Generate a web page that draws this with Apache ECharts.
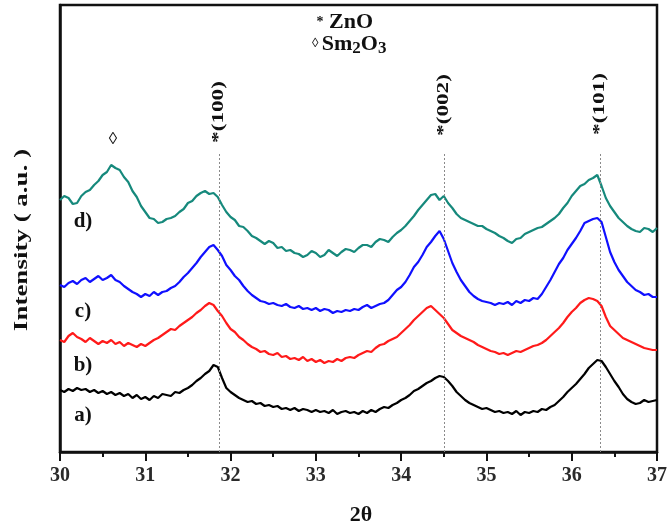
<!DOCTYPE html>
<html>
<head>
<meta charset="utf-8">
<script src="https://cdn.jsdelivr.net/npm/echarts@6/dist/echarts.min.js"></script>
<style>
html,body{margin:0;padding:0;background:#fff;}
#chart{width:670px;height:527px;}
</style>
</head>
<body>
<div id="chart"></div>
<script>
// 2-theta sampling: 30.00 .. 37.00, step 0.05 (141 points)
const thetaStart = 30, thetaStep = 0.05;

// Intensities (a.u.), offset curves a) .. d)
const curveD = [
252,256,254,248,249,256,260,262,267,271,
277,280,287,284,282,275,270,261,255,246,
240,234,233,229,230,233,234,236,240,243,
249,251,256,259,261,258,259,255,247,240,
235,232,226,225,221,216,214,211,208,211,
209,204,205,201,202,199,198,195,197,201,
199,195,197,202,199,196,200,203,202,200,
204,207,207,205,210,213,212,210,215,219,
222,226,231,236,242,247,252,257,258,252,
256,249,244,238,234,232,230,228,226,226,
223,221,219,216,214,211,209,213,214,218,
220,222,224,225,228,231,234,238,244,249,
256,261,266,268,272,274,277,266,254,246,
240,234,230,226,223,221,220,224,223,220,
224];
const curveC = [
167,165,169,171,168,172,174,170,173,176,
172,174,177,172,170,166,163,160,158,155,
158,156,160,157,160,161,164,166,170,175,
179,184,189,195,200,205,207,202,196,187,
182,176,172,166,161,157,154,151,150,148,
149,147,146,148,145,144,146,143,144,142,
144,141,143,142,139,141,140,142,141,143,
142,145,147,144,146,148,149,152,157,162,
165,170,177,185,190,197,205,210,216,221,
213,201,189,180,172,166,160,156,153,151,
150,149,147,149,148,150,147,151,149,152,
151,154,153,158,165,172,180,188,194,202,
208,214,221,229,231,233,234,230,215,200,
190,182,176,170,166,162,160,157,158,155,
155];
const curveB = [
112,110,116,119,115,113,110,114,111,108,
111,109,112,108,110,106,109,107,105,108,
106,109,112,114,117,120,123,122,126,129,
132,135,139,142,146,149,147,141,136,129,
123,120,115,112,108,105,103,100,101,98,
97,99,95,96,93,94,92,95,91,93,
90,92,89,91,90,93,91,94,95,94,
97,99,101,100,104,107,108,111,113,115,
119,123,127,132,136,140,144,146,142,138,
134,128,122,119,116,114,112,110,107,105,
103,101,100,98,99,97,99,101,100,102,
104,106,107,109,112,116,120,124,129,135,
140,144,149,152,154,153,151,146,135,126,
122,118,114,112,110,108,106,104,103,102,
102];
const curveA = [
62,60,63,61,64,62,63,60,62,59,
61,58,60,57,59,56,58,54,57,53,
55,52,56,54,58,57,56,60,59,62,
64,67,71,74,78,81,87,85,74,64,
60,57,54,52,50,51,48,49,46,47,
45,46,43,44,42,44,41,43,42,40,
42,40,41,39,42,38,40,41,39,40,
38,41,39,42,40,43,45,44,47,49,
52,54,57,61,63,66,69,71,74,76,
75,71,66,60,56,52,49,47,45,43,
44,42,40,41,39,40,38,41,37,40,
39,41,40,43,42,45,47,51,55,60,
64,68,73,78,84,88,92,91,85,78,
71,65,58,53,50,48,49,52,50,51,
52];

const curveNames = ['a)', 'b)', 'c)', 'd)'];
const curveColors = ['#000000', '#ff1a1a', '#1010ff', '#16897c'];

// ZnO reflections
const peakPositions = [31.87, 34.51, 36.34];
const peakLabels = ['*(100)', '*(002)', '*(101)'];
const peakLineTop = 299;
// Sm2O3 reflection
const smPeak = 30.62;

const xTicks = [30, 31, 32, 33, 34, 35, 36, 37];

function toPairs(arr) {
  return arr.map((v, i) => [+(thetaStart + i * thetaStep).toFixed(2), v]);
}

const chart = echarts.init(document.getElementById('chart'));
const serif = '"Liberation Serif","Times New Roman",serif';
const curves = [curveA, curveB, curveC, curveD];

const series = curves.map((c, k) => ({
  type: 'line',
  name: curveNames[k],
  data: toPairs(c),
  showSymbol: false,
  symbol: 'none',
  silent: true,
  z: 3,
  lineStyle: { color: curveColors[k], width: 2.2 }
}));

series[0].markLine = {
  silent: true,
  symbol: 'none',
  label: { show: false },
  lineStyle: { type: [2, 2], color: '#8a8a8a', width: 1 },
  data: peakPositions.map(p => [{ coord: [p, 0] }, { coord: [p, peakLineTop] }])
};

chart.setOption({
  animation: false,
  backgroundColor: '#fff',
  grid: { left: 60, right: 10, top: 5, bottom: 75, show: true, borderColor: '#111', borderWidth: 2.5 },
  xAxis: {
    type: 'value', min: 30, max: 37, interval: 1,
    axisLine: { show: true, lineStyle: { color: '#111', width: 2.5 } },
    axisTick: { show: true, inside: false, length: 9, lineStyle: { color: '#111', width: 2 } },
    minorTick: { show: true, splitNumber: 2, length: 5, lineStyle: { color: '#111', width: 2 } },
    splitLine: { show: false },
    axisLabel: { color: '#2a2a2a', fontFamily: serif, fontWeight: 'bold', fontSize: 20, margin: 14,
      formatter: v => xTicks.includes(v) ? String(v) : '' }
  },
  yAxis: {
    type: 'value', min: 0, max: 447,
    axisLine: { show: true, lineStyle: { color: '#111', width: 2.5 } },
    axisTick: { show: false }, axisLabel: { show: false }, splitLine: { show: false }
  },
  series: series
});

// annotations
const g = [];
const T = (text, x, y, size, extra) => Object.assign({
  type: 'text', x: x, y: y, silent: true, z: 10,
  style: Object.assign({ text: text, fill: '#111', font: 'bold ' + size + 'px ' + serif,
    textAlign: 'center', textVerticalAlign: 'middle' }, extra && extra.style || {})
}, extra && extra.el || {});

const peakY = [340, 347, 348];
peakPositions.forEach((p, i) => {
  const pt = chart.convertToPixel({ gridIndex: 0 }, [p, peakY[i]]);
  g.push(T(peakLabels[i], pt[0] - 1, pt[1], 16, { el: { rotation: Math.PI / 2, scaleX: 1.45 } }));
});
const sp = chart.convertToPixel({ gridIndex: 0 }, [smPeak, 312]);
g.push(T('\u25CA', sp[0], sp[1], 17));

// curve labels
const labelPos = [[83, 416], [83, 366], [83, 312], [83, 222]];
curveNames.forEach((n, i) => g.push(T(n, labelPos[i][0], labelPos[i][1], 21)));

// legend
g.push(T('*', 320, 22, 14));
g.push(T('ZnO', 329, 22, 22, { style: { textAlign: 'left' } }));
g.push({
  type: 'text', x: 312, y: 44, silent: true, z: 10,
  style: {
    text: '{m|\u25CA} {t|Sm}{s|2}{t|O}{s|3}',
    textAlign: 'left', textVerticalAlign: 'middle',
    rich: {
      m: { fontFamily: serif, fontWeight: 'bold', fontSize: 13, fill: '#111' },
      t: { fontFamily: serif, fontWeight: 'bold', fontSize: 22, fill: '#111' },
      s: { fontFamily: serif, fontWeight: 'bold', fontSize: 17, fill: '#111', padding: [10, 0, 0, 0] }
    }
  }
});

// axis titles
g.push(T('2\u03B8', 361, 515, 22));
g.push(T('Intensity ( a.u. )', 22, 240, 18, { el: { rotation: Math.PI / 2, scaleX: 1.5 } }));

chart.setOption({ graphic: g });
</script>
</body>
</html>
